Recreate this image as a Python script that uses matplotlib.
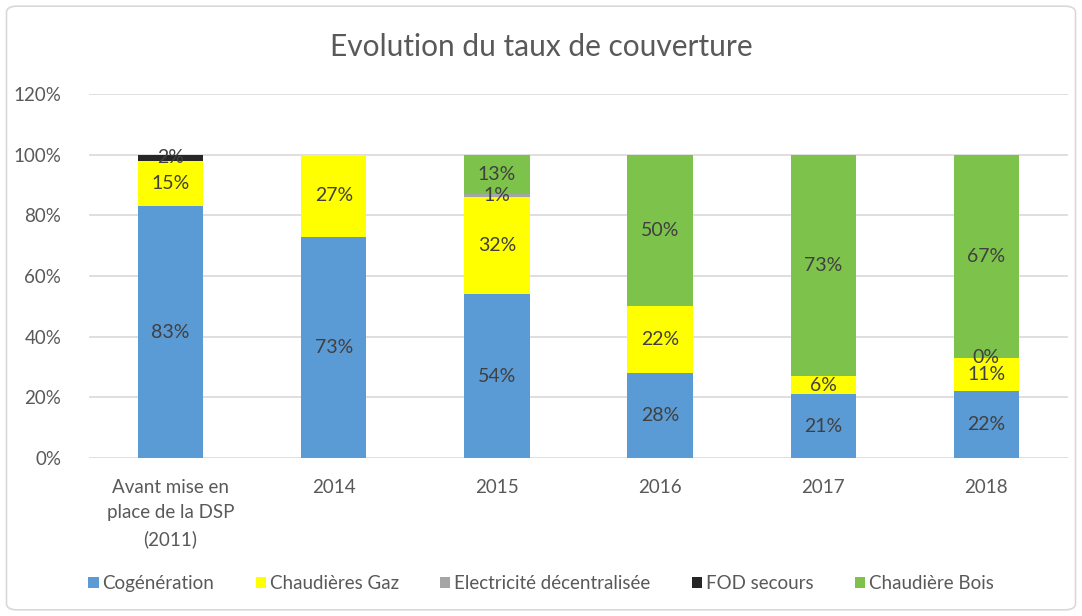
import numpy as np
import matplotlib.pyplot as plt
from matplotlib.patches import FancyBboxPatch

plt.rcParams['font.family'] = ['Lato', 'DejaVu Sans']

categories = ['Avant mise en\nplace de la DSP\n(2011)', '2014', '2015', '2016', '2017', '2018']
series = ['Cogénération', 'Chaudières Gaz', 'Electricité décentralisée', 'FOD secours', 'Chaudière Bois']
cogen = [83, 73, 54, 28, 21, 22]
gaz = [15, 27, 32, 22, 6, 11]
elec = [0, 0, 1, 0, 0, 0]
fod = [2, 0, 0, 0, 0, 0]
bois = [0, 0, 13, 50, 73, 67]
# which segments carry a data label
show_label = [
    [True, True, True, True, True, True],
    [True, True, True, True, True, True],
    [False, False, True, False, False, True],
    [True, False, False, False, False, False],
    [False, False, True, True, True, True],
]
colors = ['#5B9BD5', '#FFFF00', '#A5A5A5', '#262626', '#7DC24B']

fig = plt.figure(figsize=(10.82, 6.16), dpi=100)
ax = fig.add_axes([0.0823, 0.2565, 0.9047, 0.5905])

x = np.arange(len(categories))
bottom = np.zeros(len(categories))
data = [cogen, gaz, elec, fod, bois]
for vals, col, name, shows in zip(data, colors, series, show_label):
    v = np.array(vals) / 100
    ax.bar(x, v, 0.4, bottom=bottom, color=col, label=name, zorder=3)
    for i in range(len(x)):
        if shows[i]:
            ax.text(x[i], bottom[i] + v[i] / 2, f'{vals[i]}%', ha='center', va='center',
                    fontsize=14, color='#404040', zorder=4)
    bottom += v

ax.set_xlim(-0.5, len(categories) - 0.5)
ax.set_ylim(0, 1.2)
ax.set_yticks(np.arange(0, 1.21, 0.2))
ax.set_yticklabels([f'{int(round(t * 100))}%' for t in np.arange(0, 1.21, 0.2)])
ax.set_xticks(x)
ax.set_xticklabels(categories, linespacing=1.6)
ax.tick_params(length=0, labelsize=13.5, colors='#595959', pad=15)
ax.tick_params(axis='y', pad=20)
ax.grid(axis='y', color='#D9D9D9', linewidth=1.2, zorder=0)
for s in ax.spines.values():
    s.set_visible(False)

fig.suptitle('Evolution du taux de couverture', y=0.947, fontsize=21.5, color='#595959')

leg = fig.legend(loc='center', bbox_to_anchor=(0.5, 0.053), ncol=5, frameon=False,
                 fontsize=13.5, handlelength=0.55, handleheight=0.55, handletextpad=0.2,
                 columnspacing=2.2, labelcolor='#595959')

border = FancyBboxPatch((0.006, 0.01), 0.988, 0.98, boxstyle='round,pad=0,rounding_size=0.01',
                        transform=fig.transFigure, fill=False, edgecolor='#D9D9D9', linewidth=1.2)
fig.patches.append(border)

fig.savefig('out.png', dpi=100)
